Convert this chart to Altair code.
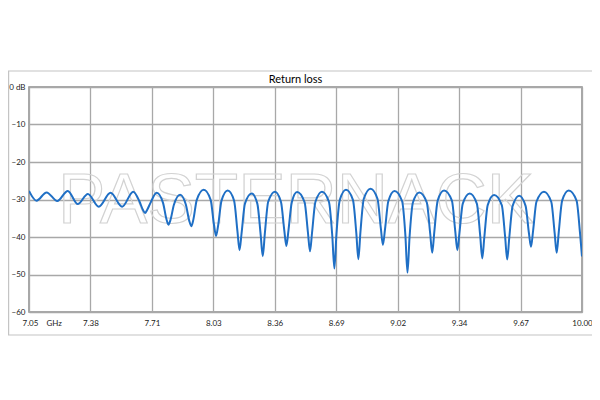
import altair as alt
import pandas as pd

# Frequency (GHz) and return loss (dB)
freq_ghz = [
    7.050, 7.090, 7.144, 7.201, 7.257, 7.310, 7.364, 7.422, 7.485, 7.547, 7.606,
    7.640, 7.658, 7.669, 7.680, 7.698, 7.731,
    7.765, 7.783, 7.794, 7.805, 7.823, 7.856,
    7.887, 7.905, 7.916, 7.927, 7.945, 7.982,
    8.019, 8.037, 8.048, 8.059, 8.077, 8.110,
    8.144, 8.162, 8.173, 8.184, 8.202, 8.238,
    8.268, 8.286, 8.297, 8.308, 8.326, 8.362,
    8.394, 8.412, 8.423, 8.434, 8.452, 8.480,
    8.520, 8.538, 8.549, 8.560, 8.578, 8.613,
    8.650, 8.668, 8.679, 8.690, 8.708, 8.741,
    8.778, 8.796, 8.807, 8.818, 8.836, 8.872,
    8.909, 8.927, 8.938, 8.949, 8.967, 9.000,
    9.040, 9.058, 9.069, 9.080, 9.098, 9.132,
    9.172, 9.190, 9.201, 9.212, 9.230, 9.264,
    9.306, 9.324, 9.335, 9.346, 9.364, 9.401,
    9.439, 9.457, 9.468, 9.479, 9.497, 9.531,
    9.572, 9.590, 9.601, 9.612, 9.630, 9.665,
    9.699, 9.717, 9.728, 9.739, 9.757, 9.797,
    9.836, 9.854, 9.865, 9.876, 9.894, 9.929,
    9.971, 9.989, 10.000,
]
return_loss_db = [
    -27.7, -30.3, -28.1, -30.4, -27.7, -31.2, -28.5, -31.9, -28.2, -31.9, -27.9,
    -30.6, -32.8, -33.6, -32.8, -30.9, -28.2,
    -30.9, -35.2, -36.7, -35.4, -31.4, -28.7,
    -31.4, -35.7, -37.1, -35.3, -30.1, -27.4,
    -30.1, -36.8, -39.7, -36.9, -30.3, -27.6,
    -30.3, -38.5, -43.5, -39.0, -31.1, -28.4,
    -31.1, -39.5, -45.1, -39.1, -30.6, -27.9,
    -30.6, -38.3, -42.4, -38.3, -30.7, -28.0,
    -30.7, -38.8, -43.8, -38.8, -30.6, -27.9,
    -30.6, -39.8, -48.4, -39.3, -30.1, -27.4,
    -30.1, -38.9, -45.9, -38.7, -29.8, -27.1,
    -29.8, -37.7, -42.1, -38.0, -30.4, -27.7,
    -30.4, -39.7, -49.5, -40.1, -30.8, -28.1,
    -30.8, -39.0, -44.2, -38.7, -30.3, -27.6,
    -30.3, -38.5, -43.5, -39.0, -31.1, -28.4,
    -31.1, -39.7, -45.7, -40.0, -31.5, -28.8,
    -31.5, -40.0, -46.0, -40.2, -31.7, -29.0,
    -31.7, -39.0, -42.6, -38.4, -30.6, -27.9,
    -30.6, -38.9, -44.2, -38.7, -30.3, -27.6,
    -30.3, -38.7, -45.2,
]

x_tick_values = [7.05, 7.3778, 7.7056, 8.0333, 8.3611, 8.6889, 9.0167, 9.3444, 9.6722, 10.0]
y_tick_values = [0, -10, -20, -30, -40, -50, -60]

df = pd.DataFrame({"f": freq_ghz, "db": return_loss_db})

FONT = "Lato"
NB = "\u00a0"

frame = alt.Chart(alt.Data(values=[{}])).mark_rect(
    fillOpacity=0, stroke="#c4c4c4", strokeWidth=1.2
).encode(
    x=alt.value(-20.4), x2=alt.value(569), y=alt.value(-16), y2=alt.value(248)
)

watermark = alt.Chart(alt.Data(values=[{}])).mark_text(
    text="PASTERNACK", font="Liberation Sans", fontSize=71,
    fillOpacity=0, stroke="#d2d2d2", strokeWidth=1.2,
    align="center", baseline="alphabetic"
).encode(x=alt.value(267), y=alt.value(136))

first_label = "7.05" + NB * 4 + "GHz"

line = alt.Chart(df).mark_line(
    color="#1f6fc5", strokeWidth=2.0, interpolate="monotone", clip=True
).encode(
    x=alt.X(
        "f:Q",
        scale=alt.Scale(domain=[7.05, 10.0], nice=False, zero=False),
        axis=alt.Axis(
            values=x_tick_values,
            labelExpr="datum.index == 0 ? '" + first_label + "' : format(datum.value, '.2f')",
            labelAlign=alt.condition("datum.index == 0", alt.value("left"), alt.value("center")),
            labelOffset=alt.condition("datum.index == 0", alt.value(-7), alt.value(0)),
            title=None, ticks=False, domain=False, labelPadding=7,
        ),
    ),
    y=alt.Y(
        "db:Q",
        scale=alt.Scale(domain=[-60, 0], nice=False, zero=False),
        axis=alt.Axis(
            values=y_tick_values,
            labelExpr="datum.value == 0 ? '0" + NB + "dB' : datum.label",
            title=None, ticks=False, domain=False, labelPadding=4,
        ),
    ),
)

chart = alt.layer(frame, watermark, line).properties(
    width=553,
    height=225,
    title=alt.TitleParams(
        "Return loss", font=FONT, fontSize=11, fontWeight="normal",
        color="#000000", offset=-15, dx=-10, anchor="middle", frame="group",
    ),
    padding={"left": 21, "top": 79, "right": 10, "bottom": 40},
    autosize=alt.AutoSizeParams(type="none"),
).configure(
    background="white",
).configure_view(
    stroke="#8c8c8c", strokeWidth=1.5,
).configure_axis(
    gridColor="#a8a8a8", gridWidth=1.3, gridOpacity=1,
    labelFont=FONT, labelFontSize=8, labelColor="#222222",
)

chart.save("out.html", embed_options={"renderer": "svg", "actions": False})
